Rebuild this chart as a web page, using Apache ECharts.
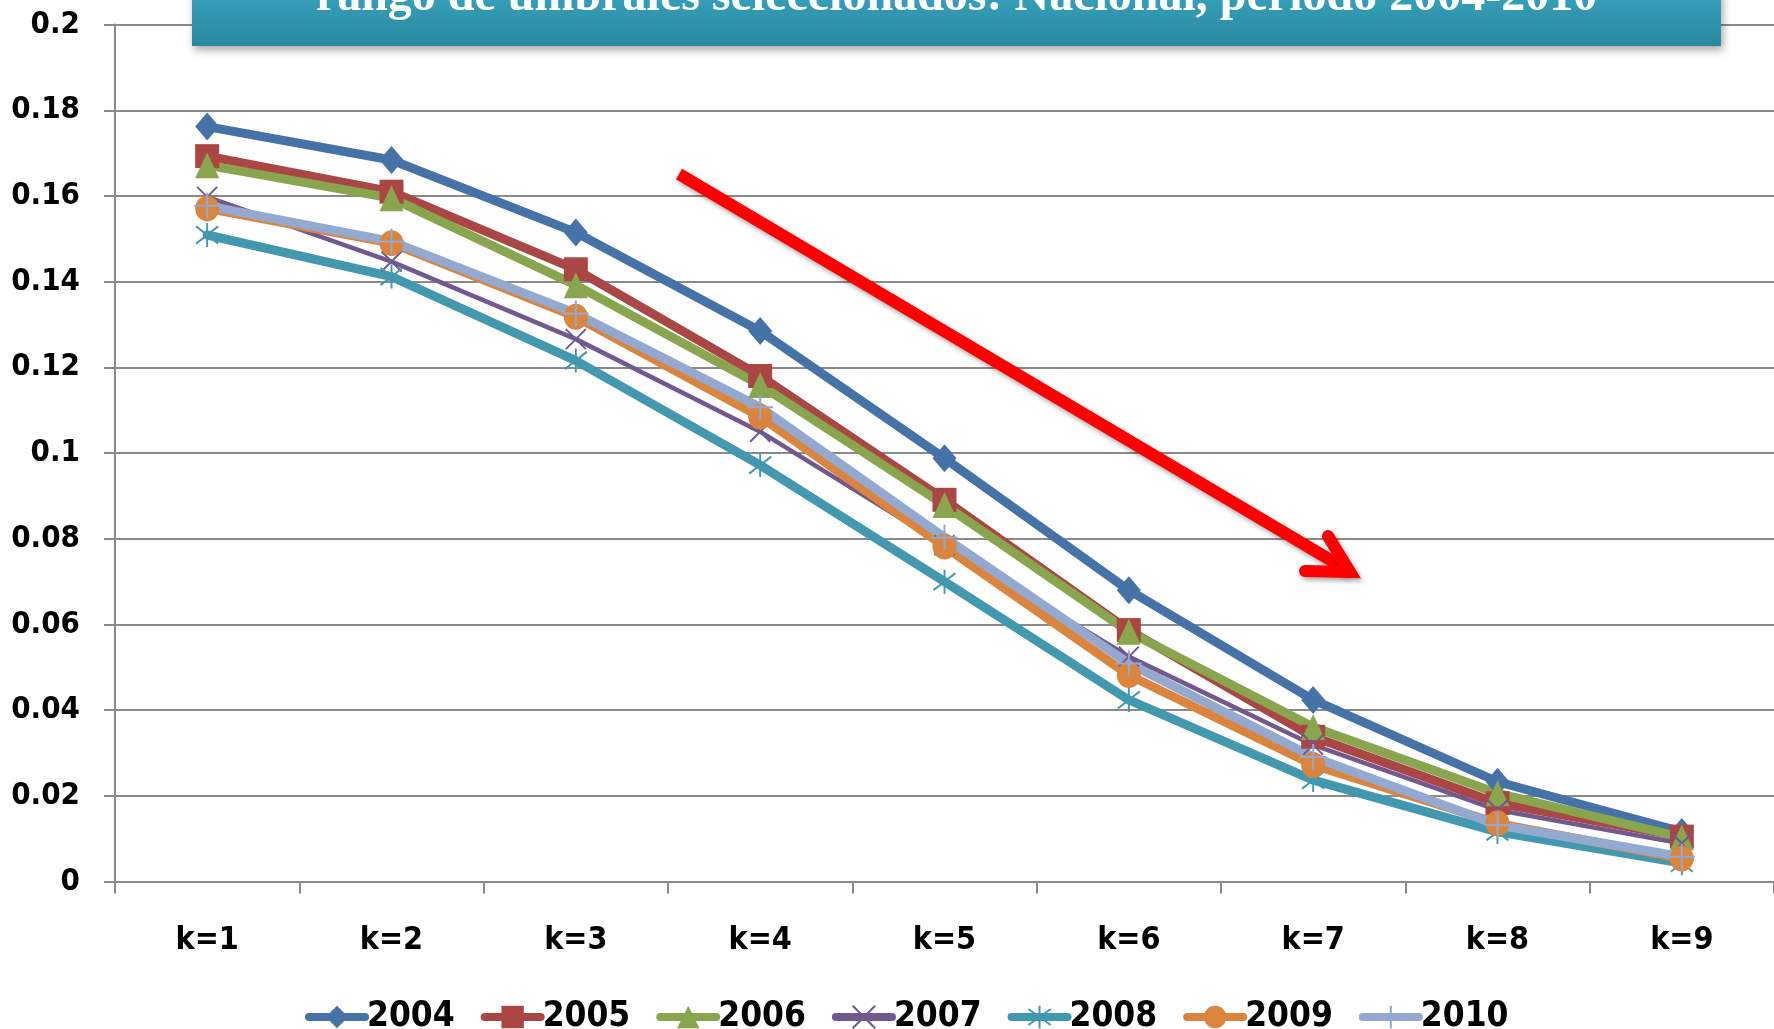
<!DOCTYPE html>
<html>
<head>
<meta charset="utf-8">
<script src="https://cdn.jsdelivr.net/npm/echarts@6/dist/echarts.min.js"></script>
<style>
html,body{margin:0;padding:0;background:#fff;}
#chart{width:1774px;height:1029px;}
</style>
</head>
<body>
<div id="chart"></div>
<script>
const categories = ['k=1','k=2','k=3','k=4','k=5','k=6','k=7','k=8','k=9'];
const yTickLabels = ['0','0.02','0.04','0.06','0.08','0.1','0.12','0.14','0.16','0.18','0.2'];
const seriesNames = ['2004','2005','2006','2007','2008','2009','2010'];
const s2004 = [0.1762,0.1684,0.1515,0.1285,0.0988,0.0680,0.0424,0.0233,0.0116];
const s2005 = [0.1693,0.1610,0.1429,0.1180,0.0891,0.0587,0.0338,0.0183,0.0105];
const s2006 = [0.1672,0.1595,0.1392,0.1159,0.0879,0.0583,0.0361,0.0206,0.0103];
const s2007 = [0.1598,0.1447,0.1266,0.1050,0.0785,0.0525,0.0319,0.0167,0.0089];
const s2008 = [0.1509,0.1412,0.1216,0.0972,0.0700,0.0424,0.0237,0.0116,0.0043];
const s2009 = [0.1571,0.1490,0.1318,0.1085,0.0782,0.0482,0.0272,0.0136,0.0054];
const s2010 = [0.1577,0.1494,0.1326,0.1107,0.0803,0.0509,0.0291,0.0132,0.0058];
const titleText = 'rango de umbrales seleccionados: Nacional, período 2004-2010';

const FONT = '"DejaVu Sans Condensed", "Liberation Sans Narrow", "DejaVu Sans", sans-serif';
const GRAY = '#8a8a8a';

const styles = [
  {color:'#4572A7', width:9, symbol:'diamond', size:[24,28], stroke:false},
  {color:'#AA4643', width:9, symbol:'rect', size:24, stroke:false},
  {color:'#89A54E', width:9, symbol:'triangle', size:[24,26], stroke:false},
  {color:'#71588F', width:4.5, symbol:'path://M0,0L10,10M10,0L0,10', size:20, stroke:true},
  {color:'#4198AF', width:9, symbol:'path://M0,0L10,10M10,0L0,10M5,-2L5,12', size:[22,24], stroke:true},
  {color:'#DB843D', width:9, symbol:'circle', size:[24,26], stroke:false},
  {color:'#93A9CF', width:9, symbol:'path://M5,0L5,10M0,5L10,5', size:26, stroke:true}
];
const dataSets = [s2004,s2005,s2006,s2007,s2008,s2009,s2010];

const series = seriesNames.map((name,i) => {
  const st = styles[i];
  return {
    name: name,
    type: 'line',
    data: dataSets[i],
    symbol: st.symbol,
    symbolSize: st.size,
    showSymbol: true,
    lineStyle: {color: st.color, width: st.width, cap:'round', join:'round'},
    itemStyle: st.stroke
      ? {color: 'rgba(0,0,0,0)', borderColor: st.color, borderWidth: 2}
      : {color: st.color, borderWidth: 0},
    emphasis: {disabled: true},
    animation: false
  };
});

const chart = echarts.init(document.getElementById('chart'), null, {renderer:'canvas'});
chart.setOption({
  backgroundColor: '#ffffff',
  animation: false,
  grid: {left:115, top:24.6, width:1666, height:857, containLabel:false},
  xAxis: {
    type:'category',
    data: categories,
    boundaryGap: true,
    axisLine: {show:true, lineStyle:{color:GRAY, width:2}},
    axisTick: {show:true, length:12, interval:0, lineStyle:{color:GRAY, width:2}},
    axisLabel: {margin:43, fontSize:32, fontWeight:'bold', color:'#000', fontFamily:FONT, interval:0},
    splitLine: {show:false}
  },
  yAxis: {
    type:'value',
    min:0, max:0.2, interval:0.02,
    axisLine: {show:true, lineStyle:{color:GRAY, width:2}},
    axisTick: {show:true, length:11, lineStyle:{color:GRAY, width:2}},
    axisLabel: {
      margin:35, fontSize:31, fontWeight:'bold', color:'#000', fontFamily:FONT,
      formatter: v => yTickLabels[Math.round(v/0.02)]
    },
    splitLine: {show:true, lineStyle:{color:GRAY, width:2}}
  },
  legend: {
    data: seriesNames,
    left: 300,
    top: 993,
    itemWidth: 56,
    itemHeight: 28,
    itemGap: 26,
    lineStyle: {width: 8, cap: 'round'},
    textStyle: {fontSize:35, fontWeight:'bold', color:'#000', fontFamily:FONT, lineHeight:38, padding:[0,0,0,-3]}
  },
  series: series,
  graphic: [
    {
      type:'rect', z:100,
      shape:{x:192, y:-10, width:1529, height:56},
      style:{
        fill: new echarts.graphic.LinearGradient(0,0,0,1,[{offset:0,color:'#37a2bd'},{offset:1,color:'#2a889e'}]),
        shadowBlur:8, shadowOffsetX:2, shadowOffsetY:4, shadowColor:'rgba(0,0,0,0.35)'
      }
    },
    {
      type:'text', z:101,
      x: 956.5, y: -2,
      style:{
        text: titleText,
        fill:'#ffffff',
        font: 'bold 48px "Liberation Serif", "DejaVu Serif", serif',
        align:'center', verticalAlign:'middle',
        textAlign:'center', textVerticalAlign:'middle'
      }
    },
    {
      type:'polyline', z:102,
      shape:{points:[[679,174],[1349,571]]},
      style:{stroke:'#ff0000', lineWidth:12, lineCap:'butt', fill:null,
        shadowBlur:5, shadowOffsetX:2, shadowOffsetY:3, shadowColor:'rgba(0,0,0,0.35)'}
    },
    {
      type:'polyline', z:102,
      shape:{points:[[1328,536],[1350,572],[1305,571]]},
      style:{stroke:'#ff0000', lineWidth:12, lineCap:'round', lineJoin:'miter', fill:null,
        shadowBlur:5, shadowOffsetX:2, shadowOffsetY:3, shadowColor:'rgba(0,0,0,0.35)'}
    }
  ]
});
</script>
</body>
</html>
